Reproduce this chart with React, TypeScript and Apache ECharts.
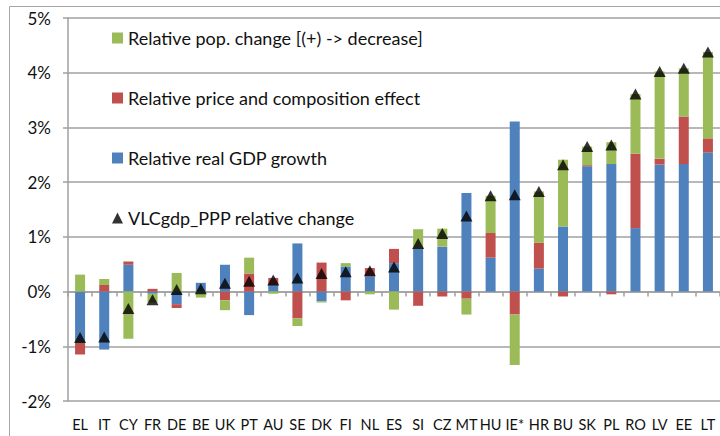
import React, { useEffect, useRef } from "react";
import * as echarts from "echarts";

const categories = ["EL","IT","CY","FR","DE","BE","UK","PT","AU","SE","DK","FI","NL","ES","SI","CZ","MT","HU","IE*","HR","BU","SK","PL","RO","LV","EE","LT"];
const realGdp = [-0.93,-1.06,0.49,-0.04,-0.23,0.16,0.49,-0.43,0.12,0.88,-0.18,0.46,0.28,0.52,0.78,0.82,1.80,0.62,3.11,0.42,1.19,2.29,2.33,1.16,2.32,2.33,2.54];
const priceEffect = [-0.22,0.12,0.06,0.05,-0.07,0,-0.16,0.33,0.13,-0.49,0.53,-0.16,0.15,0.26,-0.26,-0.09,-0.13,0.45,-0.42,0.47,-0.09,0.02,-0.05,1.36,0.11,0.87,0.26];
const popChange = [0.31,0.11,-0.86,-0.16,0.34,-0.11,-0.18,0.29,-0.04,-0.14,-0.02,0.06,-0.05,-0.33,0.36,0.33,-0.29,0.68,-0.92,0.94,1.22,0.34,0.40,1.09,1.59,0.88,1.58];
const vlcChange = [-0.84,-0.83,-0.31,-0.15,0.04,0.05,0.15,0.19,0.21,0.25,0.33,0.36,0.38,0.45,0.88,1.06,1.38,1.75,1.77,1.83,2.32,2.65,2.68,3.61,4.02,4.08,4.38];

const NAME_POP = "Relative pop. change [(+) -> decrease]";
const NAME_PRICE = "Relative price and composition effect";
const NAME_GDP = "Relative real GDP growth";
const NAME_VLC = "VLCgdp_PPP relative change";

const FONT = "Lato, 'Open Sans', sans-serif";
const GRID_COLOR = "#A0A0A0";

export default function App() {
  const ref = useRef<HTMLDivElement>(null);
  useEffect(() => {
    if (!ref.current) return;
    const chart = echarts.init(ref.current, undefined, { renderer: "svg" });
    const barCommon = {
      type: "bar",
      stack: "total",
      barWidth: 10,
      xAxisIndex: 0,
      yAxisIndex: 0,
    };
    chart.setOption({
      animation: false,
      backgroundColor: "#ffffff",
      textStyle: { fontFamily: FONT },
      graphic: [
        {
          type: "rect",
          shape: { x: 9.5, y: 6.5, width: 740, height: 460 },
          style: { fill: "none", stroke: "#A6A6A6", lineWidth: 1 },
          silent: true,
          z: -10,
        },
      ],
      grid: { left: 68, top: 18, right: -3, bottom: 35, containLabel: false },
      legend: {
        orient: "vertical",
        left: 112,
        top: 28,
        padding: 0,
        itemWidth: 11,
        itemHeight: 11,
        itemGap: 40,
        textStyle: { fontFamily: FONT, fontSize: 18, color: "#111", lineHeight: 20 },
        data: [
          { name: NAME_POP, icon: "rect" },
          { name: NAME_PRICE, icon: "rect" },
          { name: NAME_GDP, icon: "rect" },
          { name: NAME_VLC, icon: "triangle" },
        ],
      },
      xAxis: [
        {
          type: "category",
          data: categories,
          axisLine: { onZero: true, lineStyle: { color: GRID_COLOR, width: 1.5 } },
          axisTick: { show: true, alignWithLabel: false, length: 5, inside: false, lineStyle: { color: GRID_COLOR, width: 1.5 } },
          axisLabel: { show: false },
          splitLine: { show: false },
        },
        {
          type: "category",
          data: categories,
          position: "bottom",
          axisLine: { show: false, onZero: false },
          axisTick: { show: false },
          axisLabel: { show: true, interval: 0, fontFamily: FONT, fontSize: 14.5, color: "#111", margin: 16 },
          splitLine: { show: false },
        },
      ],
      yAxis: {
        type: "value",
        min: -2,
        max: 5,
        interval: 1,
        axisLine: { show: true, lineStyle: { color: GRID_COLOR, width: 1.5 } },
        axisTick: { show: true, length: 5, lineStyle: { color: GRID_COLOR, width: 1.5 } },
        axisLabel: { formatter: "{value}%", fontFamily: FONT, fontSize: 17, color: "#111", margin: 17 },
        splitLine: { show: true, lineStyle: { color: GRID_COLOR, width: 1.5 } },
      },
      series: [
        { ...barCommon, name: NAME_GDP, data: realGdp, itemStyle: { color: "#4F81BD" } },
        { ...barCommon, name: NAME_PRICE, data: priceEffect, itemStyle: { color: "#C0504D" } },
        { ...barCommon, name: NAME_POP, data: popChange, itemStyle: { color: "#9BBB59" } },
        {
          type: "scatter",
          name: NAME_VLC,
          data: vlcChange,
          symbol: "triangle",
          symbolSize: [12, 11],
          itemStyle: { color: "#000000" },
          xAxisIndex: 0,
          yAxisIndex: 0,
          z: 5,
        },
      ],
    });
    return () => chart.dispose();
  }, []);
  return (
    <div
      ref={ref}
      style={{ position: "fixed", left: 0, top: 0, width: 720, height: 436 }}
    />
  );
}
